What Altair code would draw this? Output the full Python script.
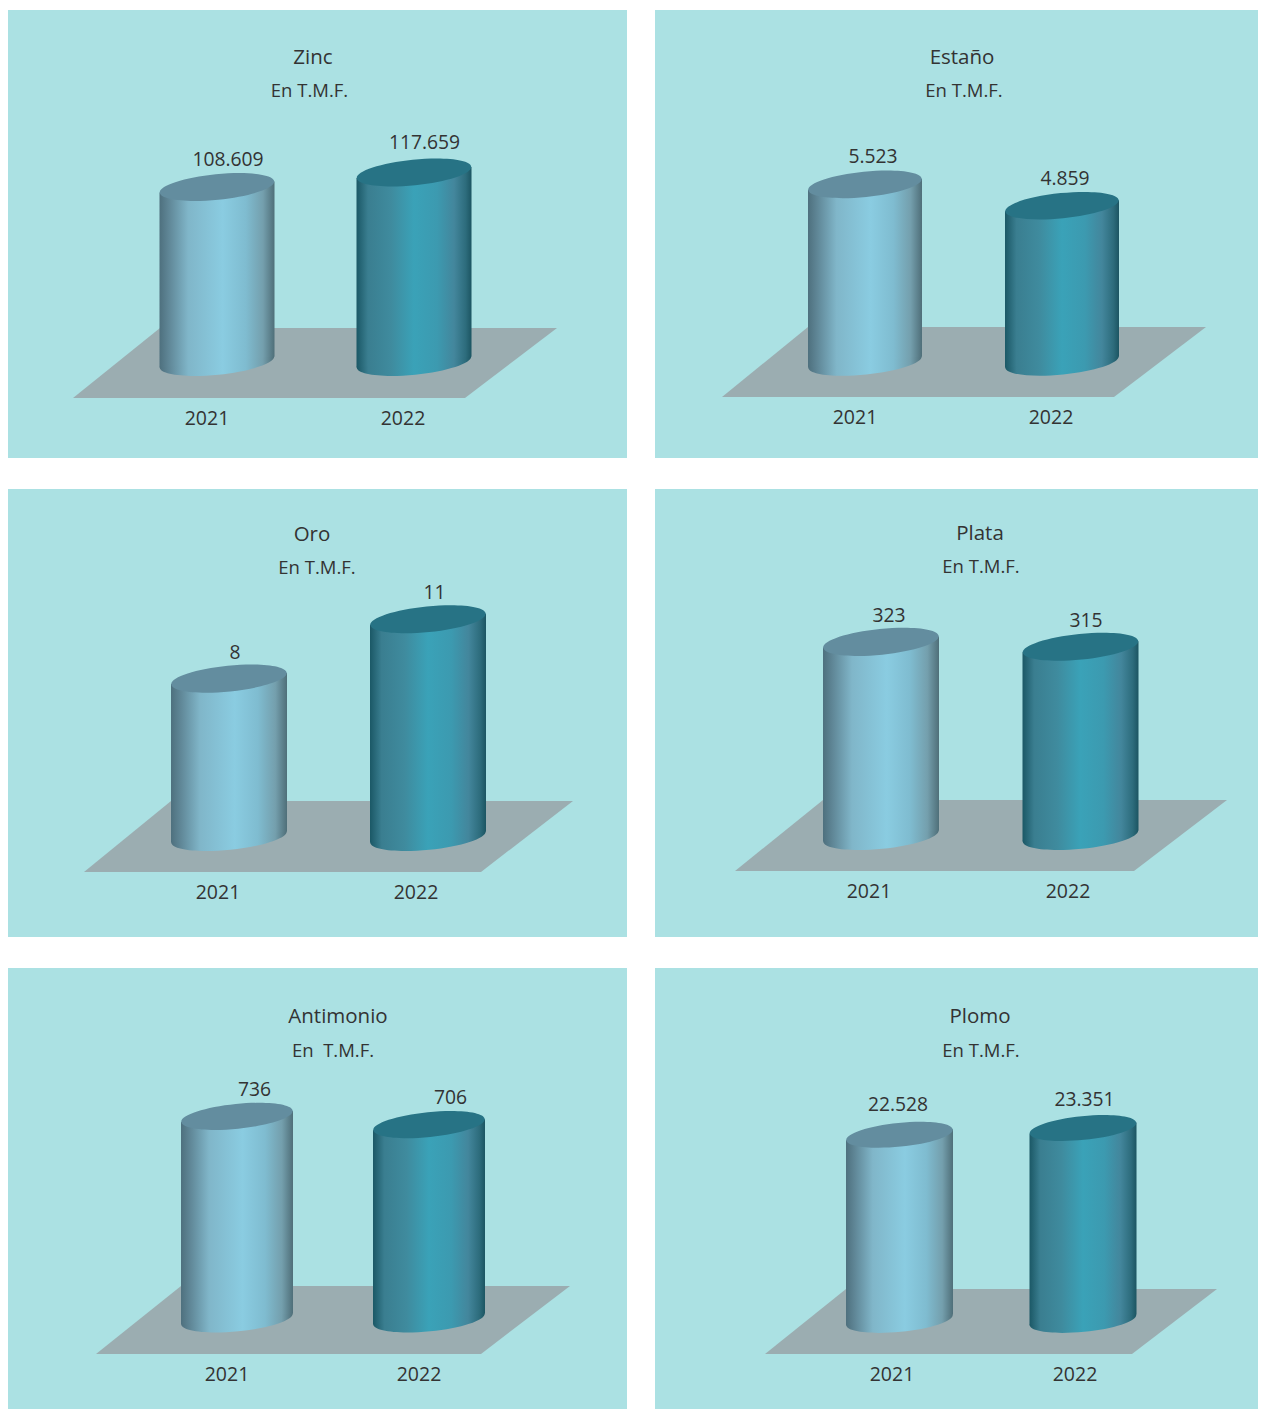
import altair as alt
import pandas as pd

YEARS = [2021, 2022]
TITLES = ["Zinc", "Estaño", "Oro", "Plata", "Antimonio", "Plomo"]
SUBTITLES = ["En T.M.F.", "En T.M.F.", "En T.M.F.", "En T.M.F.", "En\u00a0 T.M.F.", "En T.M.F."]
ZINC = [108609, 117659]
ESTANO = [5523, 4859]
ORO = [8, 11]
PLATA = [323, 315]
ANTIMONIO = [736, 706]
PLOMO = [22528, 23351]
SERIES = [ZINC, ESTANO, ORO, PLATA, ANTIMONIO, PLOMO]
LABELS = [
    ["108.609", "117.659"],
    ["5.523", "4.859"],
    ["8", "11"],
    ["323", "315"],
    ["736", "706"],
    ["22.528", "23.351"],
]

# Layout of each panel, in page pixels (separate from the data above)
LAYOUT = [
    dict(box=(7, 10, 620, 448), c=(217, 414), h=57.5, base=362, k=0.001611,
         floor=[(73, 398), (160, 328), (465, 398), (557, 328)],
         val=[(228, 160), (424.5, 143)], yr=[(207, 419), (403, 419)],
         title=(313, 58), sub=(309.5, 91)),
    dict(box=(655, 10, 611, 448), c=(865, 1062), h=57, base=362, k=0.03217,
         floor=[(722, 397), (808, 327), (1114, 397), (1206, 327)],
         val=[(873, 157), (1065, 179)], yr=[(855, 418), (1051, 418)],
         title=(962, 58), sub=(964, 91)),
    dict(box=(7, 489, 620, 448), c=(229, 428), h=58, base=837, k=19.8,
         floor=[(84, 872), (171, 801), (481, 872), (573, 801)],
         val=[(235, 653), (434.5, 593)], yr=[(218, 893), (416, 893)],
         title=(312, 535), sub=(317, 568)),
    dict(box=(655, 489, 611, 448), c=(881, 1080.5), h=58, base=836, k=0.601,
         floor=[(735, 871), (823, 800), (1134, 871), (1227, 800)],
         val=[(889, 616), (1086, 621)], yr=[(869, 892), (1068, 892)],
         title=(980, 534), sub=(981, 567)),
    dict(box=(7, 968, 620, 441), c=(237, 429), h=56, base=1319, k=0.2753,
         floor=[(96, 1354), (181, 1286), (481, 1354), (570, 1286)],
         val=[(254.5, 1090), (450.5, 1098)], yr=[(227, 1375), (419, 1375)],
         title=(338, 1017), sub=(333, 1051)),
    dict(box=(655, 968, 611, 441), c=(899.5, 1083), h=53.5, base=1320, k=0.00822,
         floor=[(765, 1354), (846, 1289), (1132, 1354), (1217, 1289)],
         val=[(898, 1105), (1084.5, 1100)], yr=[(892, 1375), (1075, 1375)],
         title=(980, 1017), sub=(981, 1051)),
]

BG = "#ABE1E3"
FLOOR = "#9BADB1"
INK = "#333333"
FONT = "Open Sans"
TILT = 5.5
ELLIPSE = "M-0.995,0.1 A1,0.2216,-5.74,1,1,0.995,-0.1 A1,0.2216,-5.74,1,1,-0.995,0.1 Z"


def grad(stops):
    return alt.LinearGradient(
        gradient="linear", x1=0, x2=1, y1=0, y2=0,
        stops=[alt.GradientStop(offset=o, color=c) for o, c in stops],
    )


BODY = [
    grad([(0, "#4E707E"), (0.08, "#5F8696"), (0.25, "#80B6C9"), (0.55, "#8ACCE1"),
          (0.75, "#7FBCD0"), (0.9, "#749FAD"), (1, "#4F6F79")]),
    grad([(0, "#1B5866"), (0.1, "#3A7E90"), (0.3, "#3F8B9E"), (0.5, "#3AA2B8"),
          (0.7, "#3C9AB0"), (0.85, "#43869C"), (0.95, "#2D6C7C"), (1, "#1C5562")]),
]
TOP = ["#638D9F", "#277385"]


def panel(i):
    p = LAYOUT[i]
    x0, y0, w, h = p["box"]
    c1, c2 = p["c"]
    d = c2 - c1
    k = p["k"]
    base = p["base"]
    xd = lambda px: YEARS[0] + (px - c1) / d
    yd = lambda py: (base - py) / k
    xs = alt.Scale(domain=[xd(x0), xd(x0 + w)], nice=False, zero=False)
    ys = alt.Scale(domain=[yd(y0 + h), yd(y0)], nice=False, zero=False)
    X = alt.X("x:Q", scale=xs, axis=None)
    Y = alt.Y("y:Q", scale=ys, axis=None)
    Y2 = alt.Y2("y2:Q")

    fl = p["floor"]
    near = yd(fl[0][1])
    far = yd(fl[1][1])
    floor_df = pd.DataFrame({
        "x": [xd(fl[0][0]), xd(fl[1][0]), xd(fl[2][0]), xd(fl[3][0])],
        "y": [near, far, far, far],
        "y2": [near, near, near, far],
    })
    layers = [alt.Chart(floor_df).mark_area(fill=FLOOR, opacity=1).encode(x=X, y=Y, y2=Y2)]

    size = (2 * p["h"]) ** 2
    half = p["h"] / d
    t = TILT / k
    for j, year in enumerate(YEARS):
        v = SERIES[i][j]
        bottom = pd.DataFrame({"x": [year], "y": [0]})
        layers.append(alt.Chart(bottom).mark_point(
            filled=True, fill=BODY[j], opacity=1, strokeWidth=0, shape=ELLIPSE, size=size,
        ).encode(x=X, y=Y))
        body = pd.DataFrame({
            "x": [year - half, year + half],
            "y": [v - t, v + t],
            "y2": [-t, t],
        })
        layers.append(alt.Chart(body).mark_area(fill=BODY[j], opacity=1).encode(x=X, y=Y, y2=Y2))
        top = pd.DataFrame({"x": [year], "y": [v]})
        layers.append(alt.Chart(top).mark_point(
            filled=True, fill=TOP[j], opacity=1, strokeWidth=0, shape=ELLIPSE, size=size,
        ).encode(x=X, y=Y))

    def text_layer(items, fs):
        df = pd.DataFrame({
            "x": [xd(a[0]) for a, _ in items],
            "y": [yd(a[1]) for a, _ in items],
            "t": [s for _, s in items],
        })
        return alt.Chart(df).mark_text(
            font=FONT, fontSize=fs, color=INK, align="center", baseline="middle",
        ).encode(x=X, y=Y, text="t:N")

    layers.append(text_layer(list(zip(p["val"], LABELS[i])), 19.3))
    layers.append(text_layer(list(zip(p["yr"], [str(y) for y in YEARS])), 19.5))
    layers.append(text_layer([(p["title"], TITLES[i])], 20.5))
    layers.append(text_layer([(p["sub"], SUBTITLES[i])], 18.5))

    return alt.layer(*layers).properties(
        width=w, height=h, view=alt.ViewBackground(fill=BG, stroke=None),
    )


rows = [
    alt.hconcat(panel(0), panel(1), spacing=28),
    alt.hconcat(panel(2), panel(3), spacing=28),
    alt.hconcat(panel(4), panel(5), spacing=28),
]
chart = alt.vconcat(*rows, spacing=31).properties(
    padding={"left": -1, "top": 2, "right": -8, "bottom": 0},
    background="white",
).configure_view(stroke=None)

chart.save("out.html", embed_options={"renderer": "svg", "actions": False})
